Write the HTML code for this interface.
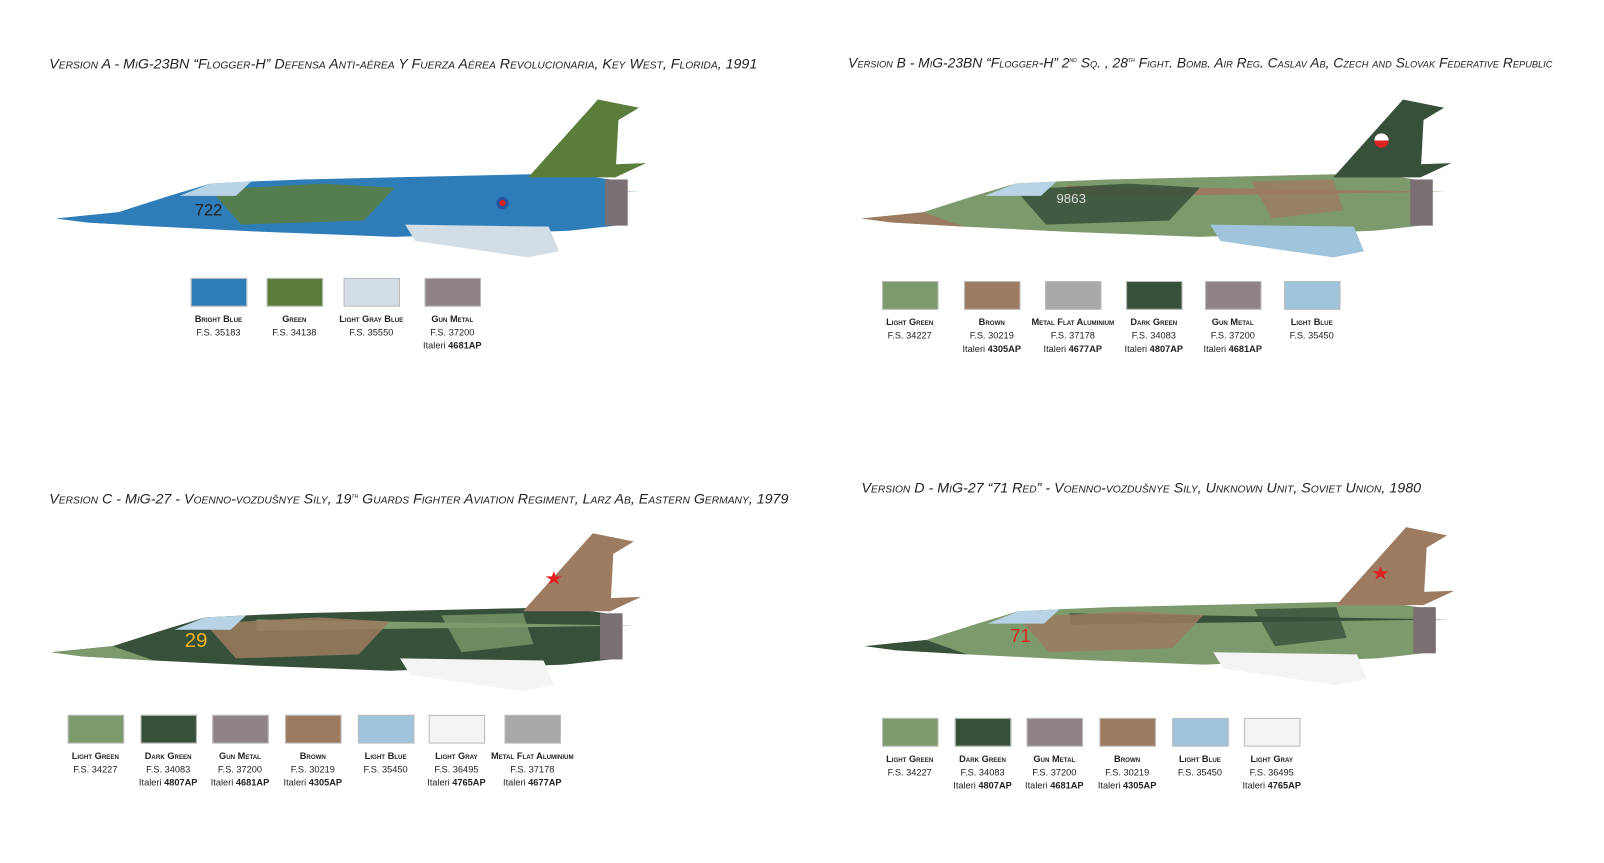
<!DOCTYPE html>
<html><head><meta charset="utf-8"><style>
body{margin:0;width:1604px;height:862px;background:#fff;position:relative;overflow:hidden;font-family:"Liberation Sans",sans-serif;color:#222}
#w{position:absolute;left:0;top:0;width:1564px;height:841px;transform:scale(1.0256);transform-origin:0 0}
.t{position:absolute;font-style:italic;font-variant:small-caps;font-size:13.9px;white-space:nowrap}
.sw{position:absolute;width:55px;height:28px;border:1px solid #bbb;box-sizing:border-box}
.lb{position:absolute;width:100px;text-align:center;font-size:9px;line-height:13px;white-space:nowrap}
.lb b{font-variant:small-caps;font-size:9px}
svg{position:absolute;left:0;top:0}
</style></head><body><div id="w">
<div class="t" style="left:48px;top:54px">Version A - MiG-23BN “Flogger-H” Defensa Anti-aérea Y Fuerza Aérea Revolucionaria, Key West, Florida, 1991</div>
<div class="t" style="left:827px;top:54px;font-size:13.5px">Version B - MiG-23BN “Flogger-H” 2<sup style="font-size:7px">nd</sup> Sq. , 28<sup style="font-size:7px">th</sup> Fight. Bomb. Air Reg. Caslav Ab, Czech and Slovak Federative Republic</div>
<div class="t" style="left:48px;top:478px">Version C - MiG-27 - Voenno-vozdušnye Sily, 19<sup style="font-size:7px">th</sup> Guards Fighter Aviation Regiment, Larz Ab, Eastern Germany, 1979</div>
<div class="t" style="left:840px;top:467px">Version D - MiG-27 “71 Red” - Voenno-vozdušnye Sily, Unknown Unit, Soviet Union, 1980</div>

<svg width="1564" height="841">
<defs>
<g id="jet">
 <polygon points="0,118 60,112 110,96 150,84 190,82 240,80 500,74 540,80 545,125 500,130 330,136 200,131 100,126 30,122" fill="var(--a)"/>
 <polygon points="460,78 528,2 568,10 548,22 545,78" fill="var(--b)"/>
 <polygon points="200,86 570,92 200,97" fill="var(--c)"/>
 <polygon points="470,68 575,64 545,78" fill="var(--b)"/>
 <polygon points="340,124 480,126 490,150 460,156 350,140" fill="var(--d)"/>
 <polygon points="150,90 260,84 330,88 300,120 180,124" fill="var(--b)" opacity=".85"/>
 <polygon points="380,82 460,80 470,110 400,118" fill="var(--c)" opacity=".8"/>
 <polygon points="120,96 150,84 190,82 175,96" fill="#b9d3e6"/>
 <rect x="535" y="80" width="22" height="45" fill="#7a6f72"/>
 <polygon points="0,118 60,112 100,126 30,122" fill="var(--c)"/>
</g>
</defs>
<g transform="translate(55,95)" style="--a:#2f7db8;--b:#5a7d3c;--c:#2f7db8;--d:#d2dde6"><use href="#jet"/></g>
<g transform="translate(840,95)" style="--a:#7c9a6c;--b:#36503a;--c:#9c7b60;--d:#a0c4dc"><use href="#jet"/></g>
<g transform="translate(50,518)" style="--a:#36503a;--b:#9c7b60;--c:#7c9a6c;--d:#f4f4f4"><use href="#jet"/></g>
<g transform="translate(843,512)" style="--a:#7c9a6c;--b:#9c7b60;--c:#36503a;--d:#f4f4f4"><use href="#jet"/></g>
<text x="190" y="210" font-size="16" font-family="Liberation Sans" fill="#222">722</text>
<text x="180" y="631" font-size="20" font-family="Liberation Sans" fill="#f2b324">29</text>
<text x="985" y="626" font-size="18" font-family="Liberation Sans" fill="#d22">71</text>
<text x="1030" y="198" font-size="13" font-family="Liberation Sans" fill="#ddd">9863</text>
<polygon points="535,570 540,557 545,570 532,562 548,562" fill="#d22"/>
<polygon points="1341,565 1346,552 1351,565 1338,557 1354,557" fill="#d22"/>
<circle cx="490" cy="198" r="6" fill="#2a53a0"/><circle cx="490" cy="198" r="3" fill="#d22"/>
<circle cx="1347" cy="137" r="7" fill="#d22"/><circle cx="1347" cy="137" r="7" fill="#fff" clip-path="inset(0 0 50% 0)"/>
</svg>

<div class="sw" style="left:186px;top:271px;background:#2f7db8"></div>
<div class="sw" style="left:260px;top:271px;background:#5a7d3c"></div>
<div class="sw" style="left:335px;top:271px;background:#d2dde6"></div>
<div class="sw" style="left:414px;top:271px;background:#8f8386"></div>
<div class="lb" style="left:163px;top:305px"><b>Bright Blue</b><br>F.S. 35183</div>
<div class="lb" style="left:237px;top:305px"><b>Green</b><br>F.S. 34138</div>
<div class="lb" style="left:312px;top:305px"><b>Light Gray Blue</b><br>F.S. 35550</div>
<div class="lb" style="left:391px;top:305px"><b>Gun Metal</b><br>F.S. 37200<br>Italeri <b>4681AP</b></div>

<div class="sw" style="left:860px;top:274px;background:#7c9a6c"></div>
<div class="sw" style="left:940px;top:274px;background:#9c7b60"></div>
<div class="sw" style="left:1019px;top:274px;background:#a9a9a9"></div>
<div class="sw" style="left:1098px;top:274px;background:#36503a"></div>
<div class="sw" style="left:1175px;top:274px;background:#8f8386"></div>
<div class="sw" style="left:1252px;top:274px;background:#a0c4dc"></div>
<div class="lb" style="left:837px;top:308px"><b>Light Green</b><br>F.S. 34227</div>
<div class="lb" style="left:917px;top:308px"><b>Brown</b><br>F.S. 30219<br>Italeri <b>4305AP</b></div>
<div class="lb" style="left:996px;top:308px"><b>Metal Flat Aluminium</b><br>F.S. 37178<br>Italeri <b>4677AP</b></div>
<div class="lb" style="left:1075px;top:308px"><b>Dark Green</b><br>F.S. 34083<br>Italeri <b>4807AP</b></div>
<div class="lb" style="left:1152px;top:308px"><b>Gun Metal</b><br>F.S. 37200<br>Italeri <b>4681AP</b></div>
<div class="lb" style="left:1229px;top:308px"><b>Light Blue</b><br>F.S. 35450</div>

<div class="sw" style="left:66px;top:697px;background:#7c9a6c"></div>
<div class="sw" style="left:137px;top:697px;background:#36503a"></div>
<div class="sw" style="left:207px;top:697px;background:#8f8386"></div>
<div class="sw" style="left:278px;top:697px;background:#9c7b60"></div>
<div class="sw" style="left:349px;top:697px;background:#a0c4dc"></div>
<div class="sw" style="left:418px;top:697px;background:#f4f4f4"></div>
<div class="sw" style="left:492px;top:697px;background:#a9a9a9"></div>
<div class="lb" style="left:43px;top:731px"><b>Light Green</b><br>F.S. 34227</div>
<div class="lb" style="left:114px;top:731px"><b>Dark Green</b><br>F.S. 34083<br>Italeri <b>4807AP</b></div>
<div class="lb" style="left:184px;top:731px"><b>Gun Metal</b><br>F.S. 37200<br>Italeri <b>4681AP</b></div>
<div class="lb" style="left:255px;top:731px"><b>Brown</b><br>F.S. 30219<br>Italeri <b>4305AP</b></div>
<div class="lb" style="left:326px;top:731px"><b>Light Blue</b><br>F.S. 35450</div>
<div class="lb" style="left:395px;top:731px"><b>Light Gray</b><br>F.S. 36495<br>Italeri <b>4765AP</b></div>
<div class="lb" style="left:469px;top:731px"><b>Metal Flat Aluminium</b><br>F.S. 37178<br>Italeri <b>4677AP</b></div>

<div class="sw" style="left:860px;top:700px;background:#7c9a6c"></div>
<div class="sw" style="left:931px;top:700px;background:#36503a"></div>
<div class="sw" style="left:1001px;top:700px;background:#8f8386"></div>
<div class="sw" style="left:1072px;top:700px;background:#9c7b60"></div>
<div class="sw" style="left:1143px;top:700px;background:#a0c4dc"></div>
<div class="sw" style="left:1213px;top:700px;background:#f4f4f4"></div>
<div class="lb" style="left:837px;top:734px"><b>Light Green</b><br>F.S. 34227</div>
<div class="lb" style="left:908px;top:734px"><b>Dark Green</b><br>F.S. 34083<br>Italeri <b>4807AP</b></div>
<div class="lb" style="left:978px;top:734px"><b>Gun Metal</b><br>F.S. 37200<br>Italeri <b>4681AP</b></div>
<div class="lb" style="left:1049px;top:734px"><b>Brown</b><br>F.S. 30219<br>Italeri <b>4305AP</b></div>
<div class="lb" style="left:1120px;top:734px"><b>Light Blue</b><br>F.S. 35450</div>
<div class="lb" style="left:1190px;top:734px"><b>Light Gray</b><br>F.S. 36495<br>Italeri <b>4765AP</b></div>
</div></body></html>
